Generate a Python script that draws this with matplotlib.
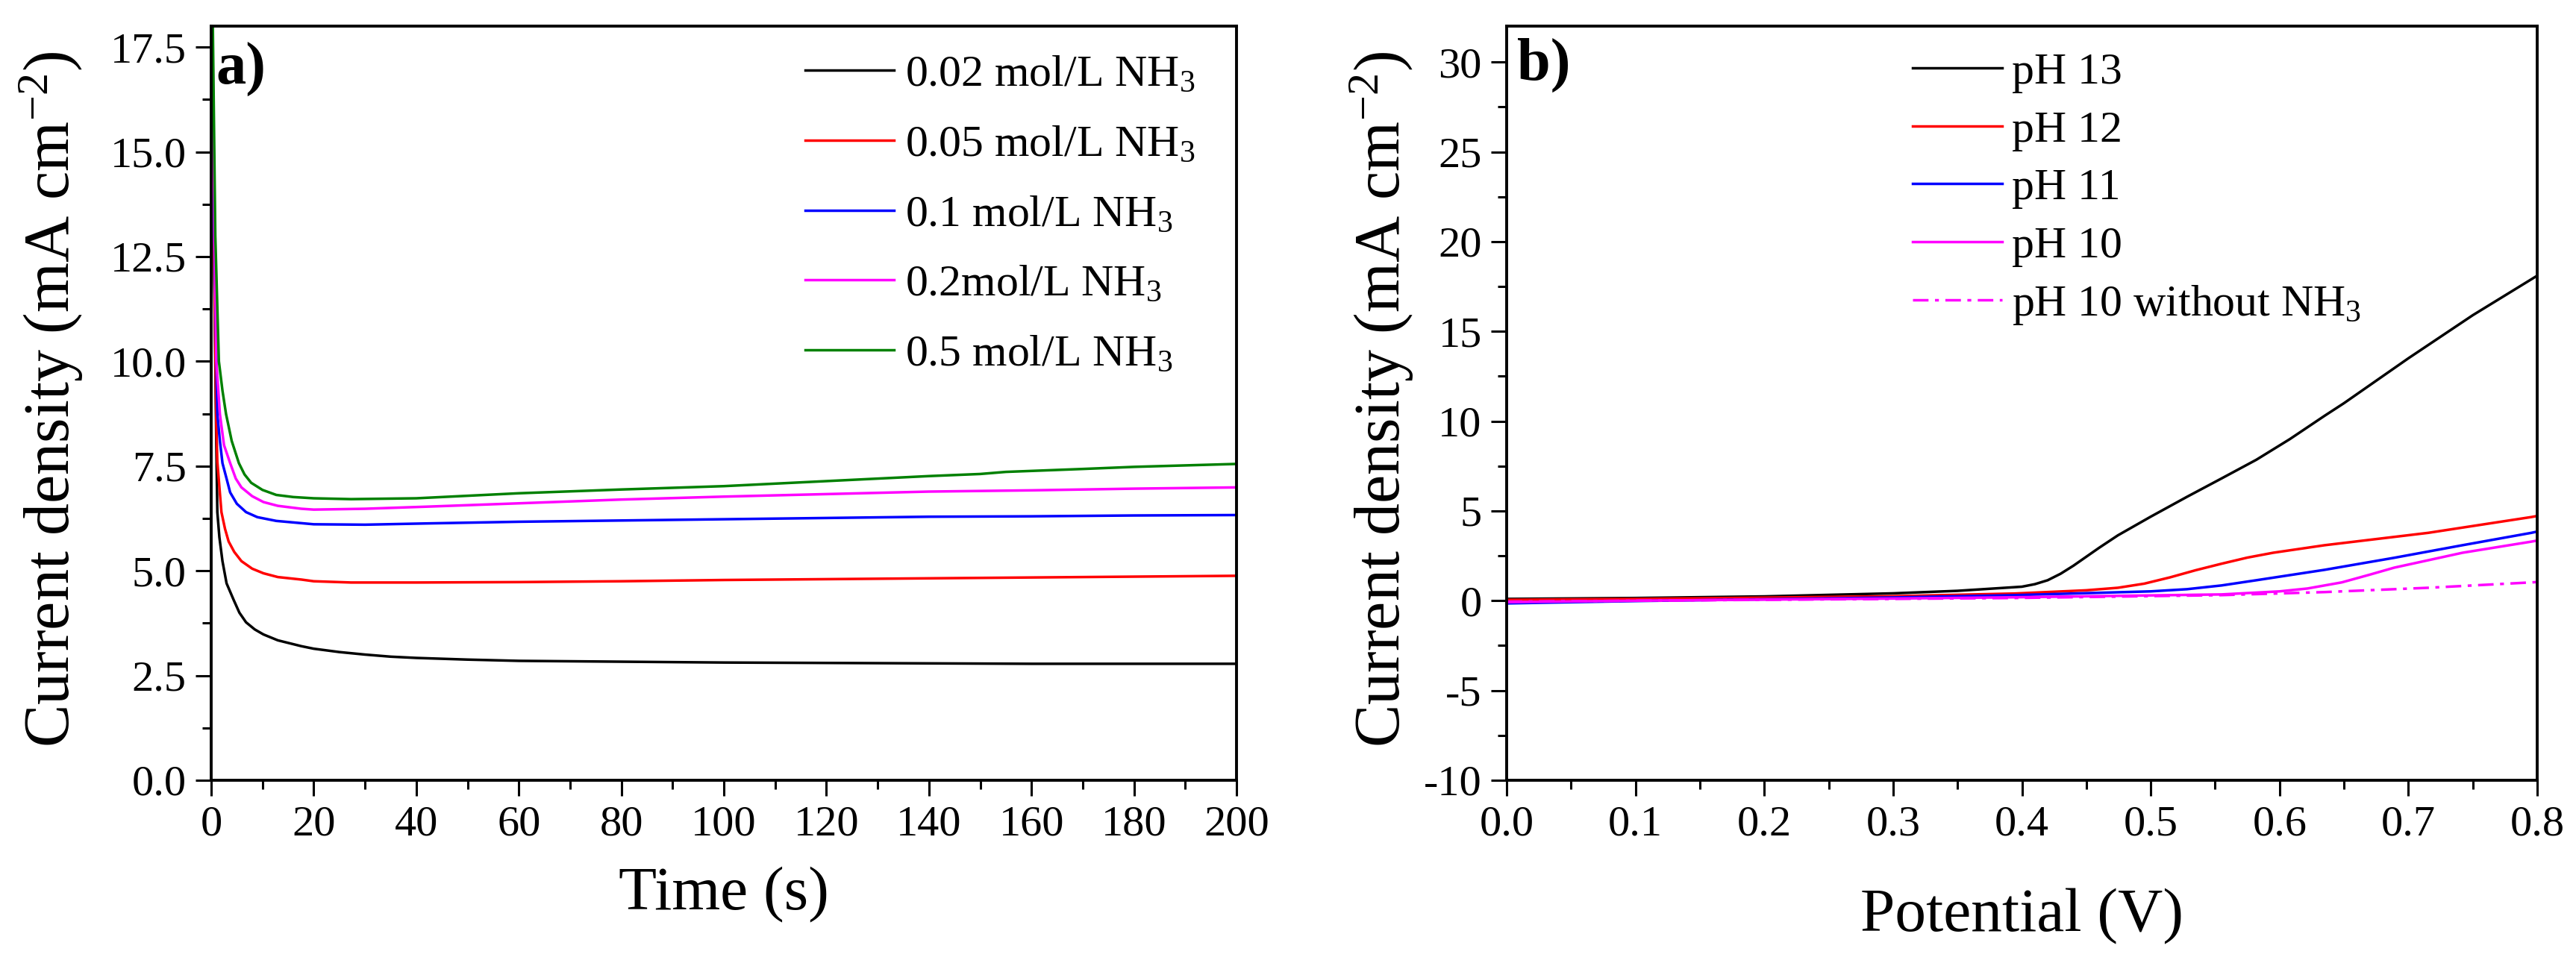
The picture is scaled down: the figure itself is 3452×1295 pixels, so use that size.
import matplotlib
matplotlib.use("Agg")
import matplotlib.pyplot as plt
from matplotlib.ticker import MultipleLocator, FormatStrFormatter

plt.rcParams['font.family'] = ['Liberation Serif', 'DejaVu Serif']
plt.rcParams['mathtext.fontset'] = 'custom'
plt.rcParams['mathtext.rm'] = 'Liberation Serif'
plt.rcParams['mathtext.it'] = 'Liberation Serif:italic'
plt.rcParams['mathtext.bf'] = 'Liberation Serif:bold'
plt.rcParams['axes.unicode_minus'] = False

# ---------------- Panel a) data: chronoamperometry ----------------
t_002 = [0, 0.3, 0.6, 1.0, 1.2, 1.6, 2.2, 3.0, 4.4, 5.5, 6.8, 8.5, 10.2, 13, 17.6, 20, 25, 30, 35, 40, 50, 60, 80, 100, 120, 140, 160, 180, 200]
j_002 = [24, 17, 12, 8.0, 6.4, 5.8, 5.23, 4.7, 4.3, 4.0, 3.77, 3.6, 3.48, 3.34, 3.2, 3.14, 3.06, 3.0, 2.95, 2.92, 2.88, 2.85, 2.83, 2.81, 2.80, 2.79, 2.78, 2.78, 2.78]

t_005 = [0, 0.3, 0.6, 1.0, 1.2, 2.0, 2.7, 3.4, 4.5, 5.9, 8.0, 10.2, 13, 17.6, 20, 27.3, 40, 60, 80, 100, 120, 140, 160, 180, 200]
j_005 = [24, 17, 12.5, 8.5, 7.6, 6.4, 6.0, 5.7, 5.45, 5.23, 5.05, 4.94, 4.85, 4.79, 4.75, 4.72, 4.72, 4.73, 4.75, 4.78, 4.80, 4.82, 4.84, 4.86, 4.88]

t_01 = [0, 0.3, 0.6, 1.2, 1.7, 2.2, 3.0, 3.7, 5.0, 6.8, 9.0, 12.7, 20, 30, 42, 60, 80, 100, 120, 140, 160, 180, 200]
j_01 = [24, 17, 13, 8.74, 8.1, 7.57, 7.2, 6.87, 6.6, 6.4, 6.28, 6.19, 6.11, 6.10, 6.13, 6.17, 6.20, 6.23, 6.26, 6.29, 6.30, 6.32, 6.33]

t_02 = [0, 0.3, 0.6, 1.0, 1.7, 2.5, 3.7, 4.8, 5.9, 8.0, 10.2, 13, 17.6, 20, 30, 42, 60, 80, 100, 120, 140, 160, 180, 200]
j_02 = [24, 17.5, 13.5, 10.0, 8.74, 8.0, 7.57, 7.2, 6.99, 6.78, 6.64, 6.55, 6.48, 6.46, 6.48, 6.53, 6.61, 6.70, 6.77, 6.83, 6.89, 6.92, 6.96, 6.99]

t_05 = [0, 0.3, 0.8, 1.5, 2.2, 2.9, 4.0, 5.4, 6.5, 7.8, 10.0, 12.7, 16, 20, 27.3, 40, 60, 80, 100, 120, 140, 150, 155, 170, 180, 200]
j_05 = [26, 18.2, 13, 10.0, 9.3, 8.74, 8.1, 7.57, 7.3, 7.1, 6.93, 6.81, 6.76, 6.73, 6.71, 6.73, 6.85, 6.94, 7.02, 7.14, 7.26, 7.31, 7.36, 7.43, 7.48, 7.55]

labels_a = [r'0.02 mol/L NH$_3$', r'0.05 mol/L NH$_3$', r'0.1 mol/L NH$_3$',
            r'0.2mol/L NH$_3$', r'0.5 mol/L NH$_3$']
colors_a = ['black', '#ff0000', '#0000ff', '#ff00ff', '#008000']

# ---------------- Panel b) data: polarization curves ----------------
V_13 = [0.0, 0.1, 0.2, 0.3, 0.35, 0.40, 0.41, 0.42, 0.43, 0.44, 0.45, 0.46, 0.4745, 0.50, 0.528, 0.555, 0.582, 0.608, 0.635, 0.65, 0.70, 0.75, 0.80]
j_13 = [0.10, 0.15, 0.24, 0.41, 0.55, 0.78, 0.92, 1.14, 1.5, 1.95, 2.45, 2.95, 3.64, 4.68, 5.78, 6.81, 7.85, 9.0, 10.3, 11.0, 13.5, 15.9, 18.1]

V_12 = [0.0, 0.1, 0.2, 0.3, 0.3945, 0.45, 0.4745, 0.495, 0.515, 0.535, 0.555, 0.575, 0.595, 0.635, 0.7155, 0.7955, 0.8]
j_12 = [0.05, 0.10, 0.17, 0.25, 0.40, 0.58, 0.72, 0.95, 1.30, 1.70, 2.06, 2.40, 2.67, 3.09, 3.78, 4.66, 4.72]

V_11 = [0.0, 0.1, 0.2, 0.3, 0.3945, 0.50, 0.528, 0.555, 0.582, 0.635, 0.689, 0.742, 0.7955, 0.8]
j_11 = [-0.15, -0.02, 0.08, 0.18, 0.31, 0.52, 0.64, 0.85, 1.14, 1.72, 2.39, 3.09, 3.78, 3.85]

V_10 = [0.0, 0.1, 0.2, 0.3, 0.3945, 0.555, 0.60, 0.6217, 0.6483, 0.67, 0.689, 0.742, 0.7955, 0.8]
j_10 = [-0.08, 0.0, 0.06, 0.12, 0.19, 0.35, 0.52, 0.68, 1.02, 1.45, 1.84, 2.67, 3.29, 3.35]

V_10n = [0.0, 0.1, 0.2, 0.3, 0.3945, 0.555, 0.635, 0.7155, 0.7955, 0.8]
j_10n = [-0.05, 0.0, 0.05, 0.10, 0.15, 0.31, 0.48, 0.72, 1.02, 1.04]

labels_b = ['pH 13', 'pH 12', 'pH 11', 'pH 10', r'pH 10 without NH$_3$']
colors_b = ['black', '#ff0000', '#0000ff', '#ff00ff', '#ff00ff']

# ---------------- Figure ----------------
W, H = 3452, 1295
fig = plt.figure(figsize=(W / 100, H / 100), dpi=100)

top_px, bot_px = 35, 1046
axA = fig.add_axes([283 / W, 1 - bot_px / H, (1657 - 283) / W, (bot_px - top_px) / H])
axB = fig.add_axes([2019 / W, 1 - bot_px / H, (3400 - 2019) / W, (bot_px - top_px) / H])

lw = 2.5
series_a = [(t_002, j_002), (t_005, j_005), (t_01, j_01), (t_02, j_02), (t_05, j_05)]
for (t, j), c, lab in zip(series_a, colors_a, labels_a):
    axA.plot(t, j, color=c, lw=lw, label=lab)

series_b = [(V_13, j_13), (V_12, j_12), (V_11, j_11), (V_10, j_10)]
for (v, j), c, lab in zip(series_b, colors_b[:4], labels_b[:4]):
    axB.plot(v, j, color=c, lw=lw, label=lab)
axB.plot(V_10n, j_10n, color=colors_b[4], lw=lw, ls=(0, (6, 2.5, 1.5, 2.5)), label=labels_b[4])

tick_fs = 42
lab_fs = 60
ylab_fs = 62

for ax in (axA, axB):
    for s in ax.spines.values():
        s.set_linewidth(2.8)
    ax.tick_params(which='both', direction='out', top=False, right=False,
                   width=2.2, labelsize=tick_fs, pad=9)
    ax.tick_params(which='major', length=15)
    ax.tick_params(which='minor', length=8.5)

axA.set_xlim(0, 200)
axA.set_ylim(0, 18)
axA.xaxis.set_major_locator(MultipleLocator(20))
axA.xaxis.set_minor_locator(MultipleLocator(10))
axA.yaxis.set_major_locator(MultipleLocator(2.5))
axA.yaxis.set_minor_locator(MultipleLocator(1.25))
axA.yaxis.set_major_formatter(FormatStrFormatter('%.1f'))

axB.set_xlim(0, 0.8)
axB.set_ylim(-10, 32)
axB.xaxis.set_major_locator(MultipleLocator(0.1))
axB.xaxis.set_minor_locator(MultipleLocator(0.05))
axB.yaxis.set_major_locator(MultipleLocator(5))
axB.yaxis.set_minor_locator(MultipleLocator(2.5))
axB.xaxis.set_major_formatter(FormatStrFormatter('%.1f'))

ylab = r'Current density (mA cm$^{\mathregular{-2}}$)'
axA.set_xlabel('Time (s)', fontsize=lab_fs)
axA.set_ylabel(ylab, fontsize=ylab_fs)
axB.set_xlabel('Potential (V)', fontsize=lab_fs)
axB.set_ylabel(ylab, fontsize=ylab_fs)

axA.xaxis.set_label_coords(0.5, -0.115)
axB.xaxis.set_label_coords(0.5, -0.143)
axA.yaxis.set_label_coords(-0.123, 0.505)
axB.yaxis.set_label_coords(-0.088, 0.505)

axA.text(0.005, 0.978, 'a)', transform=axA.transAxes, fontsize=58,
         fontweight='bold', ha='left', va='top')
axB.text(0.01, 0.984, 'b)', transform=axB.transAxes, fontsize=58,
         fontweight='bold', ha='left', va='top')

leg_fs = 43
axA.legend(loc='upper left', bbox_to_anchor=(0.579, 0.962), frameon=False,
           fontsize=leg_fs, borderpad=0, borderaxespad=0, handlelength=2.0,
           handletextpad=0.25, labelspacing=0.65)
axB.legend(loc='upper left', bbox_to_anchor=(0.394, 0.965), frameon=False,
           fontsize=leg_fs, borderpad=0, borderaxespad=0, handlelength=2.0,
           handletextpad=0.23, labelspacing=0.38)

fig.savefig('out.png', dpi=100)
